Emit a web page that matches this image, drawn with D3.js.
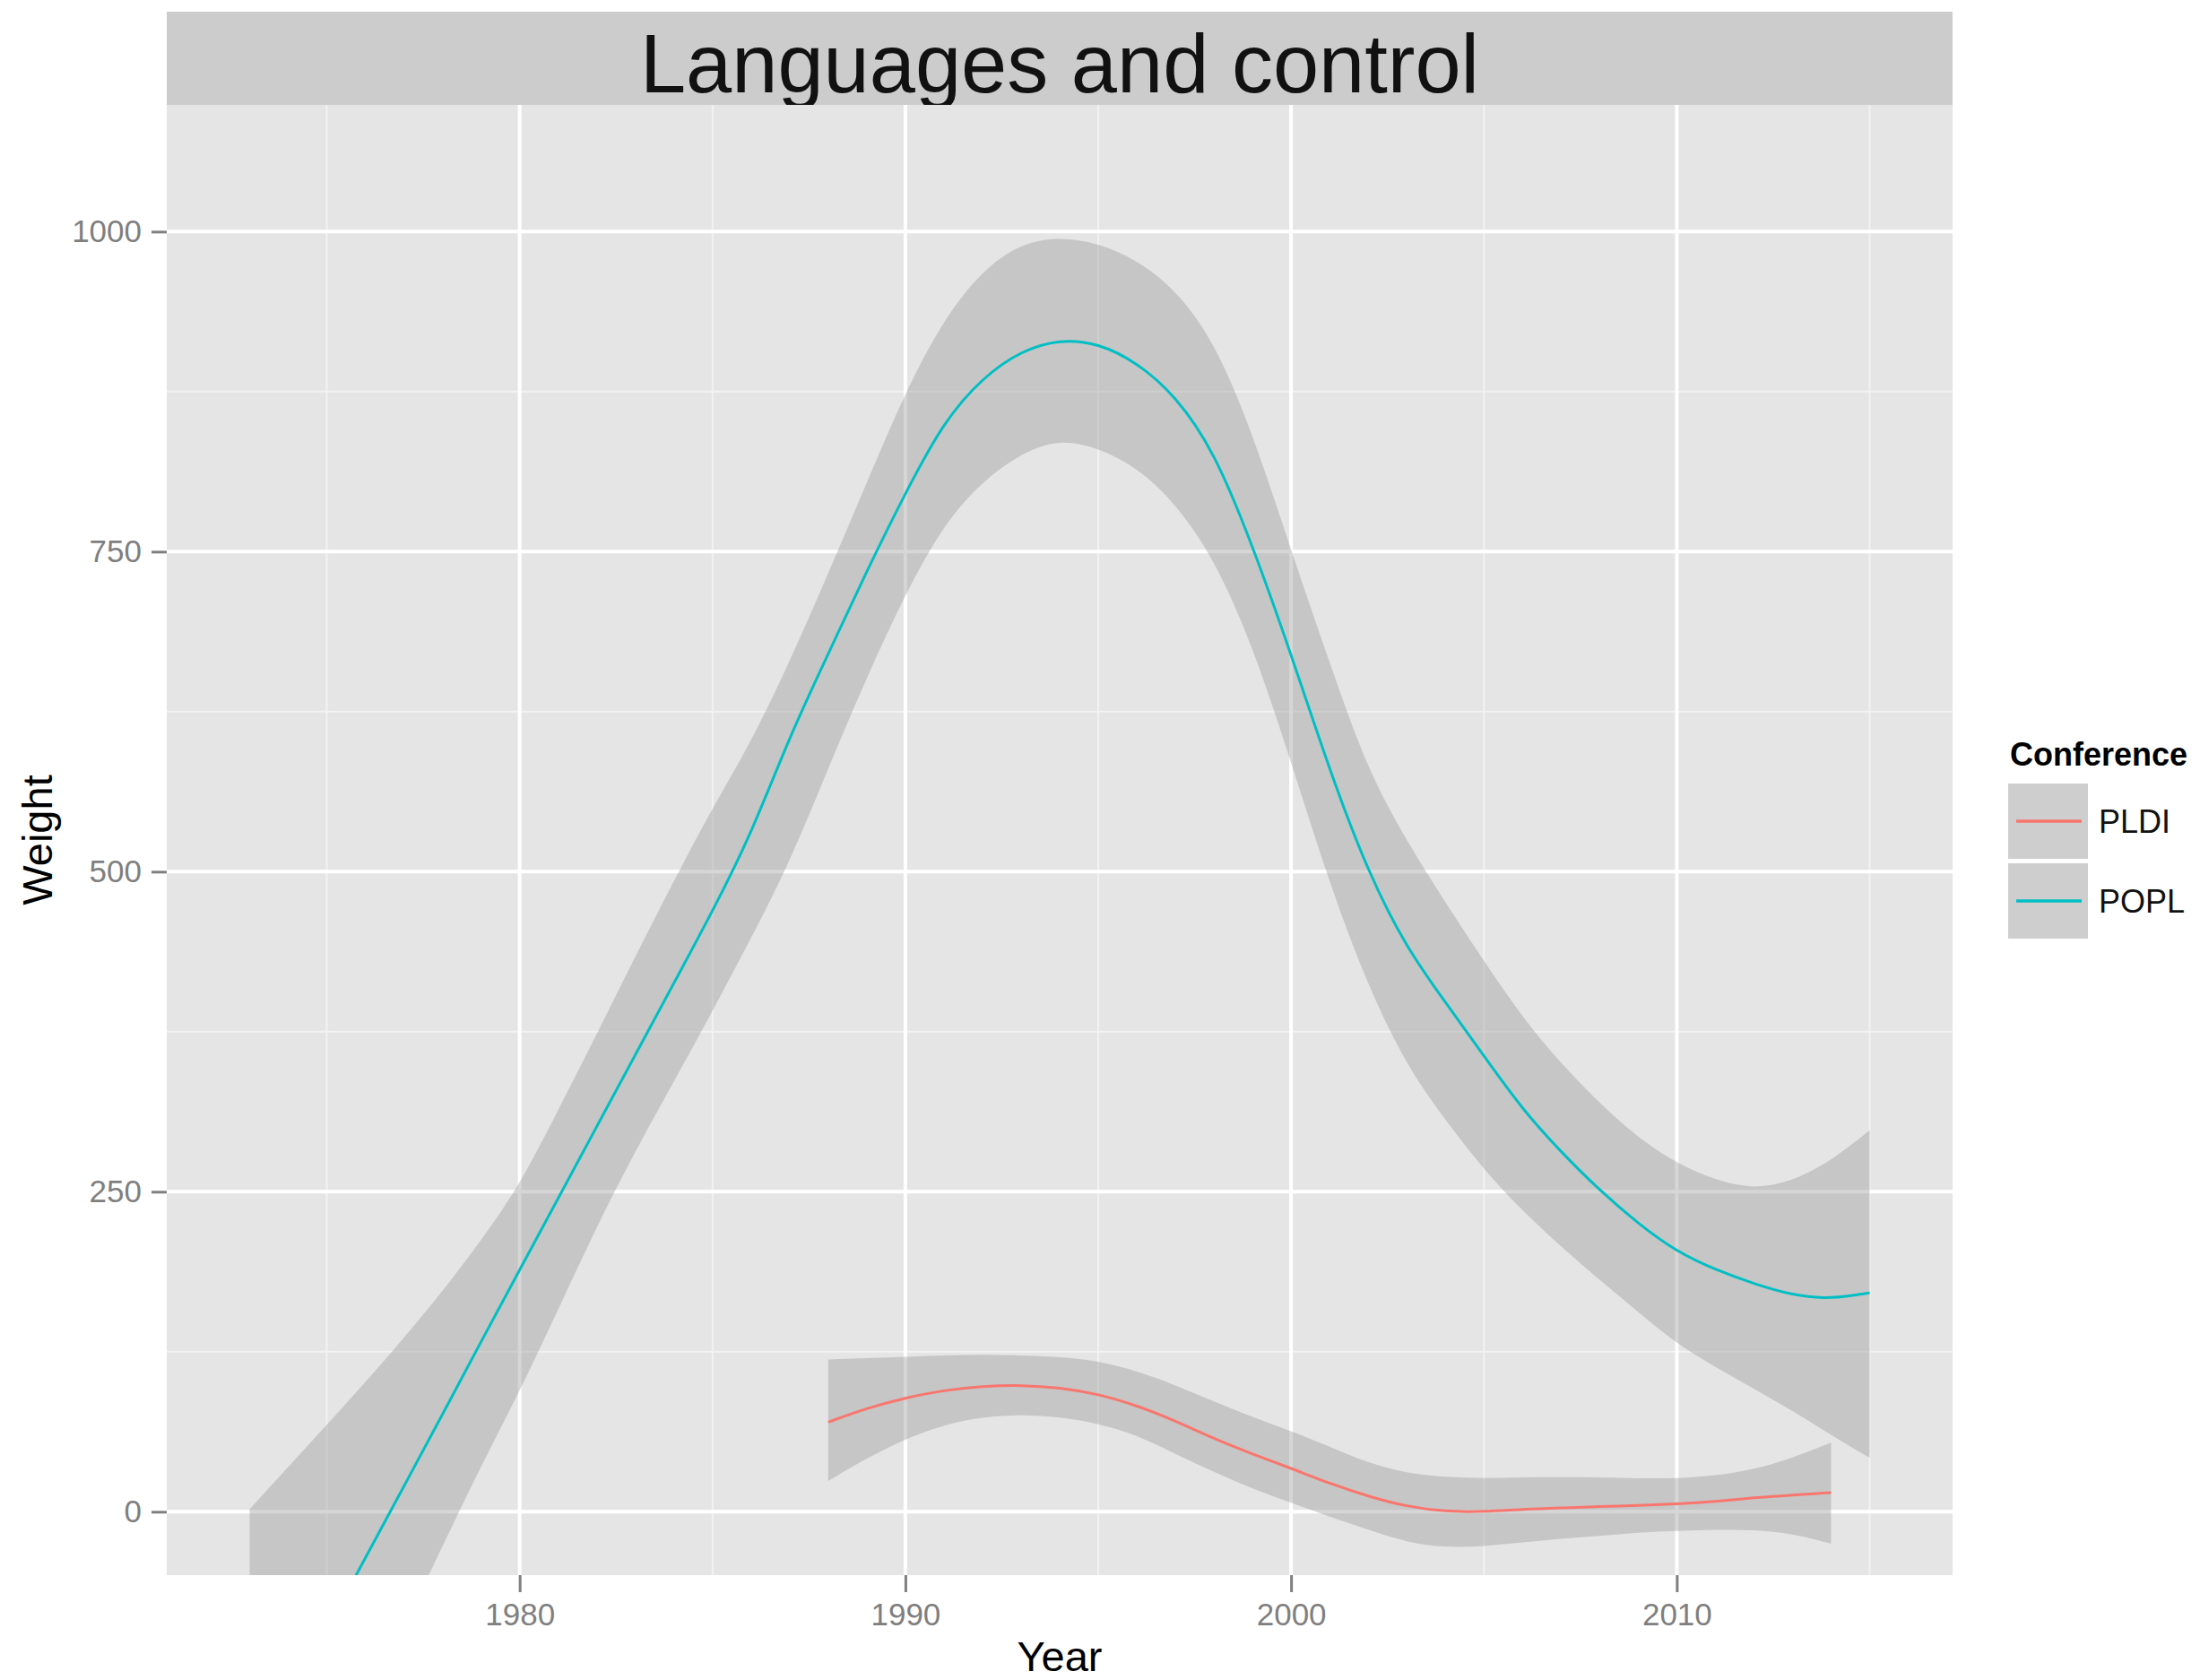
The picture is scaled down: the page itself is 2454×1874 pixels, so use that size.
<!DOCTYPE html>
<html>
<head>
<meta charset="utf-8">
<script src="https://cdn.jsdelivr.net/npm/d3@7"></script>
<style>
  body { margin: 0; background: #fff; }
  text { font-family: "Liberation Sans", Arial, Helvetica, sans-serif; }
</style>
</head>
<body>
<svg id="drawing_region" width="2454" height="1874"></svg>
<script>
// smoothed fits (one value per year)
const poplYears = [1973,1974,1975,1976,1977,1978,1979,1980,1981,1982,1983,1984,1985,1986,1987,1988,1989,1990,1991,1992,1993,1994,1995,1996,1997,1998,1999,2000,2001,2002,2003,2004,2005,2006,2007,2008,2009,2010,2011,2012,2013,2014,2015];
const poplFit = [-204,-148,-92,-36,20,76,133,189,245,301,357,413,469,529,606,670,735,796,852,886,907,916,913,898,872,829,755,670,579,499,440,398,356,314,281,251,225,203,189,178,169,166,171];
const poplHi  = [2,35,68,101,136,172,212,255,314,373,434,493,550,601,664,733,804,875,932,970,991,996,991,978,955,915,843,751,663,578,524,476,430,386,350,319,292,272,259,252,258,274,298];
const poplLo  = [-380,-300,-220,-150,-90,-27,36,94,158,223,282,336,391,448,507,581,652,717,772,805,827,838,831,816,788,745,677,586,490,410,348,306,267,235,207,181,156,131,113,96,79,60,42];

const pldiYears = [1988,1989,1990,1991,1992,1993,1994,1995,1996,1997,1998,1999,2000,2001,2002,2003,2004,2005,2006,2007,2008,2009,2010,2011,2012,2013,2014];
const pldiFit = [70,81,89,95,98,99,97,92,83,71,57,45,34,22,12,4,0,0,2,3,4,5,6,8,11,13,15];
const pldiHi  = [119,120,121,122,123,122,121,118,110,99,86,74,63,51,38,30,27,26,27,27,27,26,26,28,33,42,54];
const pldiLo  = [24,42,57,68,74,76,74,69,60,45,31,18,7,-4,-14,-24,-28,-27,-24,-21,-19,-16,-15,-14,-14,-17,-25];

const conferences = ["PLDI", "POPL"];
const colors = ["#F8766D", "#00BFC4"];

const xTicks = [1980, 1990, 2000, 2010];
const xMinor = [1975, 1985, 1995, 2005, 2015];
const yTicks = [0, 250, 500, 750, 1000];
const yMinor = [125, 375, 625, 875];

const panel = {left: 186, right: 2178, top: 117, bottom: 1757};

var svg = d3.select('#drawing_region');

const x = d3.scaleLinear().domain([1970.85, 2017.15]).range([panel.left, panel.right]);
const y = d3.scaleLinear().domain([-49.5, 1099]).range([panel.bottom, panel.top]);

// title strip
svg.append('rect')
    .attr('x', panel.left).attr('y', 13)
    .attr('width', panel.right - panel.left).attr('height', panel.top - 13)
    .attr('fill', '#CCCCCC');
svg.append('text')
    .attr('x', (panel.left + panel.right) / 2).attr('y', 103)
    .attr('text-anchor', 'middle')
    .attr('font-size', 92)
    .attr('fill', '#111')
    .text('Languages and control');

// panel background
svg.append('rect')
    .attr('x', panel.left).attr('y', panel.top)
    .attr('width', panel.right - panel.left).attr('height', panel.bottom - panel.top)
    .attr('fill', '#E5E5E5');

svg.append('clipPath').attr('id', 'clip')
  .append('rect')
    .attr('x', panel.left).attr('y', panel.top)
    .attr('width', panel.right - panel.left).attr('height', panel.bottom - panel.top);

// grid
const grid = svg.append('g');
grid.selectAll('.vminor').data(xMinor).enter().append('line')
    .attr('x1', d => x(d)).attr('x2', d => x(d))
    .attr('y1', panel.top).attr('y2', panel.bottom)
    .attr('stroke', '#F2F2F2').attr('stroke-width', 2);
grid.selectAll('.hminor').data(yMinor).enter().append('line')
    .attr('y1', d => y(d)).attr('y2', d => y(d))
    .attr('x1', panel.left).attr('x2', panel.right)
    .attr('stroke', '#F2F2F2').attr('stroke-width', 2);
grid.selectAll('.vmajor').data(xTicks).enter().append('line')
    .attr('x1', d => x(d)).attr('x2', d => x(d))
    .attr('y1', panel.top).attr('y2', panel.bottom)
    .attr('stroke', '#FFFFFF').attr('stroke-width', 4);
grid.selectAll('.hmajor').data(yTicks).enter().append('line')
    .attr('y1', d => y(d)).attr('y2', d => y(d))
    .attr('x1', panel.left).attr('x2', panel.right)
    .attr('stroke', '#FFFFFF').attr('stroke-width', 4);

// smooth fits with confidence bands
const series = [
    {name: "PLDI", years: pldiYears, fit: pldiFit, hi: pldiHi, lo: pldiLo},
    {name: "POPL", years: poplYears, fit: poplFit, hi: poplHi, lo: poplLo}
];

const area = d3.area()
    .x(d => x(d.year)).y0(d => y(d.lo)).y1(d => y(d.hi))
    .curve(d3.curveBasis);
const line = d3.line()
    .x(d => x(d.year)).y(d => y(d.fit))
    .curve(d3.curveBasis);

const plot = svg.append('g').attr('clip-path', 'url(#clip)');
series.forEach( (s, i) => {
    const pts = s.years.map( (yr, j) => ({year: yr, fit: s.fit[j], hi: s.hi[j], lo: s.lo[j]}) );
    plot.append('path')
        .datum(pts)
        .attr('d', area)
        .attr('fill', '#999999')
        .attr('fill-opacity', 0.4);
    plot.append('path')
        .datum(pts)
        .attr('d', line)
        .attr('fill', 'none')
        .attr('stroke', colors[i])
        .attr('stroke-width', 3);
});

// axes
const xAxis = svg.append('g')
    .attr('transform', `translate(0,${panel.bottom})`)
    .call(d3.axisBottom(x).tickValues(xTicks).tickSize(19).tickPadding(12).tickFormat(d3.format('d')));
const yAxis = svg.append('g')
    .attr('transform', `translate(${panel.left},0)`)
    .call(d3.axisLeft(y).tickValues(yTicks).tickSize(17).tickPadding(11).tickFormat(d3.format('d')));
[xAxis, yAxis].forEach( a => {
    a.select('.domain').remove();
    a.selectAll('line').attr('stroke', '#7F7F7F').attr('stroke-width', 3);
    a.selectAll('text')
        .attr('fill', '#7F7F7F')
        .attr('font-size', 35)
        .attr('font-family', '"Liberation Sans", Arial, sans-serif');
});

// axis titles
svg.append('text')
    .attr('x', (panel.left + panel.right) / 2).attr('y', 1864)
    .attr('text-anchor', 'middle')
    .attr('font-size', 47)
    .text('Year');
svg.append('text')
    .attr('transform', `translate(58,${(panel.top + panel.bottom) / 2}) rotate(-90)`)
    .attr('text-anchor', 'middle')
    .attr('font-size', 47)
    .text('Weight');

// legend
const legend = svg.append('g');
legend.append('text')
    .attr('x', 2242).attr('y', 854)
    .attr('font-size', 36)
    .attr('font-weight', 'bold')
    .text('Conference');
conferences.forEach( (c, i) => {
    const top = 874 + i * 89;
    legend.append('rect')
        .attr('x', 2240).attr('y', top).attr('width', 89).attr('height', 84)
        .attr('fill', '#F2F2F2');
    legend.append('rect')
        .attr('x', 2240).attr('y', top).attr('width', 89).attr('height', 84)
        .attr('fill', '#999999').attr('fill-opacity', 0.4);
    legend.append('line')
        .attr('x1', 2249).attr('x2', 2322)
        .attr('y1', top + 42).attr('y2', top + 42)
        .attr('stroke', colors[i]).attr('stroke-width', 3.5);
    legend.append('text')
        .attr('x', 2341).attr('y', top + 42 + 13)
        .attr('font-size', 36)
        .attr('fill', '#111')
        .text(c);
});
</script>
</body>
</html>
